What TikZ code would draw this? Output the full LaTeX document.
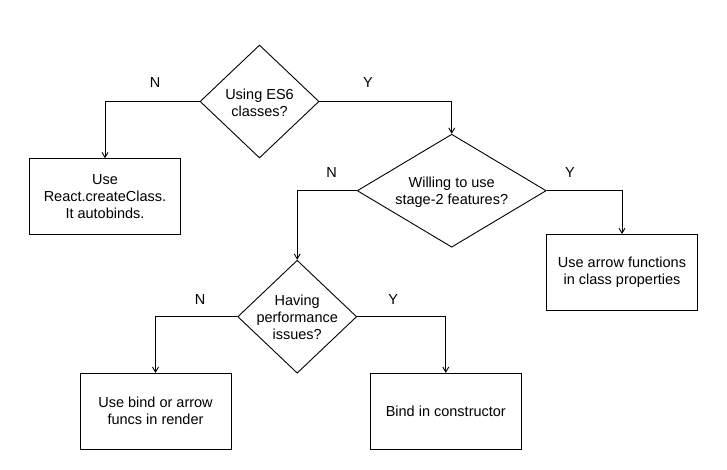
\documentclass[tikz,border=0pt]{standalone}
\usepackage{fontspec}
\setmainfont{Liberation Sans}
\usetikzlibrary{shapes.geometric,arrows.meta}
\begin{document}
\begin{tikzpicture}[x=1pt,y=-1pt,
  every node/.style={font=\fontsize{14.5}{17}\selectfont},
  dia/.style={diamond,draw,line width=0.9pt,inner sep=0pt,minimum width=119pt,minimum height=113pt},
  dtext/.style={align=center,inner sep=0pt},
  box/.style={rectangle,draw,line width=0.9pt,minimum width=151pt,minimum height=76pt,align=center,inner sep=2pt},
  conn/.style={line width=0.9pt,-{Straight Barb[length=5pt,width=6pt]}},
  yn/.style={inner sep=0pt}]
\useasboundingbox (0,0) rectangle (727,470);
% diamonds
\node[dia] (d1) at (259.5,101.5) {};
\node[dtext] (t1) at (259.5,103) {Using ES6\\classes?};
\node[dia,minimum width=189pt] (d2) at (451.7,190.7) {};
\node[dtext] (t2) at (451.7,192) {Willing to use\\stage-2 features?};
\node[dia] (d3) at (297.2,316.7) {};
\node[dtext] (t3) at (297.2,317.5) {Having\\performance\\issues?};
% boxes
\node[box] (b1) at (105,196.7) {Use\\React.createClass.\\It autobinds.};
\node[box] (b2) at (622,272.5) {Use arrow functions\\in class properties};
\node[box] (b3) at (155.5,411.3) {Use bind or arrow\\funcs in render};
\node[box] (b4) at (445.8,411.3) {Bind in constructor};
% connectors
\draw[conn] (d1.west) -| (b1.north);
\draw[conn] (d1.east) -| (d2.north);
\draw[conn] (d2.west) -| (d3.north);
\draw[conn] (d2.east) -| (b2.north);
\draw[conn] (d3.west) -| (b3.north);
\draw[conn] (d3.east) -| (b4.north);
% labels
\node[yn] (n1) at (155,83) {N};
\node[yn] (y1) at (368,83) {Y};
\node[yn] (n2) at (331.7,172.7) {N};
\node[yn] (y2) at (570,172.7) {Y};
\node[yn] (n3) at (200,299.3) {N};
\node[yn] (y3) at (393.3,299.3) {Y};
\end{tikzpicture}
\end{document}
